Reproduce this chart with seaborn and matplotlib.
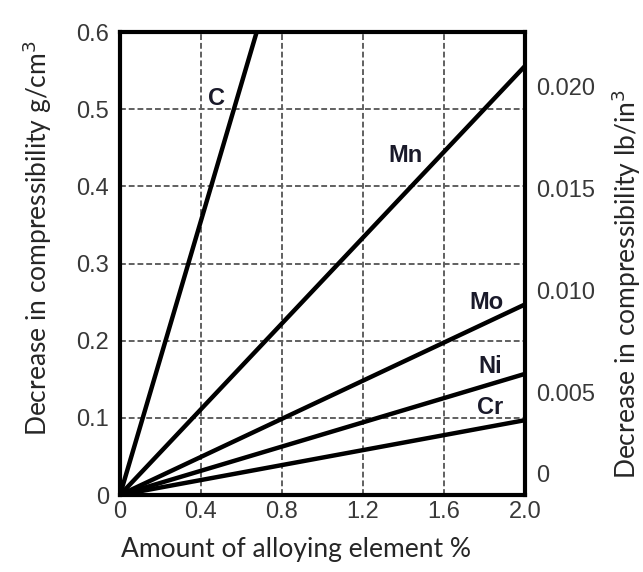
import matplotlib as mpl
mpl.use('Agg')
import matplotlib.pyplot as plt
import matplotlib.transforms as mtransforms
import numpy as np
import pandas as pd
import seaborn as sns

# Lines start at the origin and end at (end_x, end_y) in g/cm3
elements = ['C', 'Mn', 'Mo', 'Ni', 'Cr']
end_x = [0.675, 2.0, 2.0, 2.0, 2.0]
end_y = [0.6, 0.556, 0.247, 0.157, 0.097]
label_x = [0.477, 1.41, 1.81, 1.83, 1.83]
label_y = [0.514, 0.44, 0.25, 0.166, 0.114]

x_ticks = [0, 0.4, 0.8, 1.2, 1.6, 2.0]
x_ticklabels = ['0', '0.4', '0.8', '1.2', '1.6', '2.0']
y_ticks = [0, 0.1, 0.2, 0.3, 0.4, 0.5, 0.6]
y_ticklabels = ['0', '0.1', '0.2', '0.3', '0.4', '0.5', '0.6']
lb_ticks = [0, 0.005, 0.010, 0.015, 0.020]
lb_ticklabels = ['0', '0.005', '0.010', '0.015', '0.020']
G_PER_LB = 26.5  # scale of right axis as drawn

rows = []
for el, xe, ye in zip(elements, end_x, end_y):
    rows.append({'element': el, 'x': 0.0, 'y': 0.0})
    rows.append({'element': el, 'x': xe, 'y': ye})
df = pd.DataFrame(rows)

sns.set_style('white')
tick_font = 'Liberation Sans'
label_font = 'Lato'
tick_color = '#383838'
tick_size = 17

fig = plt.figure(figsize=(6.43, 5.72), dpi=100)
ax = fig.add_axes([0.1866, 0.1346, 0.6299, 0.8094])

sns.lineplot(data=df, x='x', y='y', units='element', estimator=None,
             color='black', linewidth=3.2, ax=ax, legend=False,
             solid_capstyle='butt')

ax.set_xlim(0, 2.0)
ax.set_ylim(0, 0.6)
for v in x_ticks[1:-1]:
    ax.axvline(v, color='#606060', lw=1.4, ls=(0, (3, 1.5)), zorder=0.5)
for v in y_ticks[1:-1]:
    ax.axhline(v, color='#606060', lw=1.4, ls=(0, (3, 1.5)), zorder=0.5)

for sp in ax.spines.values():
    sp.set_visible(True)
    sp.set_color('black')
    sp.set_linewidth(3.0)

ax.set_xticks(x_ticks)
ax.set_xticklabels(x_ticklabels, fontfamily=tick_font, fontsize=tick_size,
                   color=tick_color)
ax.set_yticks(y_ticks)
ax.set_yticklabels(y_ticklabels, fontfamily=tick_font, fontsize=tick_size,
                   color=tick_color)
ax.tick_params(axis='both', length=0)
ax.tick_params(axis='x', pad=4)
ax.tick_params(axis='y', pad=8)

for el, lx, ly in zip(elements, label_x, label_y):
    ax.text(lx, ly, el, fontfamily=tick_font, fontsize=17, fontweight='bold',
            ha='center', va='center', color='#1a1a2a')

ax.set_xlabel('Amount of alloying element %', fontfamily=label_font,
              fontsize=19, va='center')
ax.xaxis.set_label_coords(0.435, -0.117)
ax.set_ylabel('Decrease in compressibility g/cm$^3$', fontfamily=label_font,
              fontsize=19, va='center')
ax.yaxis.set_label_coords(-0.205, 0.555)

sec = ax.secondary_yaxis('right', functions=(lambda g: g / G_PER_LB,
                                             lambda lb: lb * G_PER_LB))
sec.set_yticks(lb_ticks)
sec.set_yticklabels(lb_ticklabels, fontfamily=tick_font, fontsize=tick_size,
                    color=tick_color)
sec.tick_params(length=0, pad=8)
sec.spines['right'].set_visible(False)
sec.set_ylabel('Decrease in compressibility lb/in$^3$', fontfamily=label_font,
               fontsize=19, va='center', ha='center')
sec.yaxis.set_label_coords(1.25, 0.455, transform=ax.transAxes)

# the right-hand "0" sits a little above the frame in the original
zero_lbl = sec.get_yticklabels()[0]
zero_lbl.set_transform(zero_lbl.get_transform() +
                       mtransforms.ScaledTranslation(0, 0.22, fig.dpi_scale_trans))

fig.savefig('out.png', dpi=100)
